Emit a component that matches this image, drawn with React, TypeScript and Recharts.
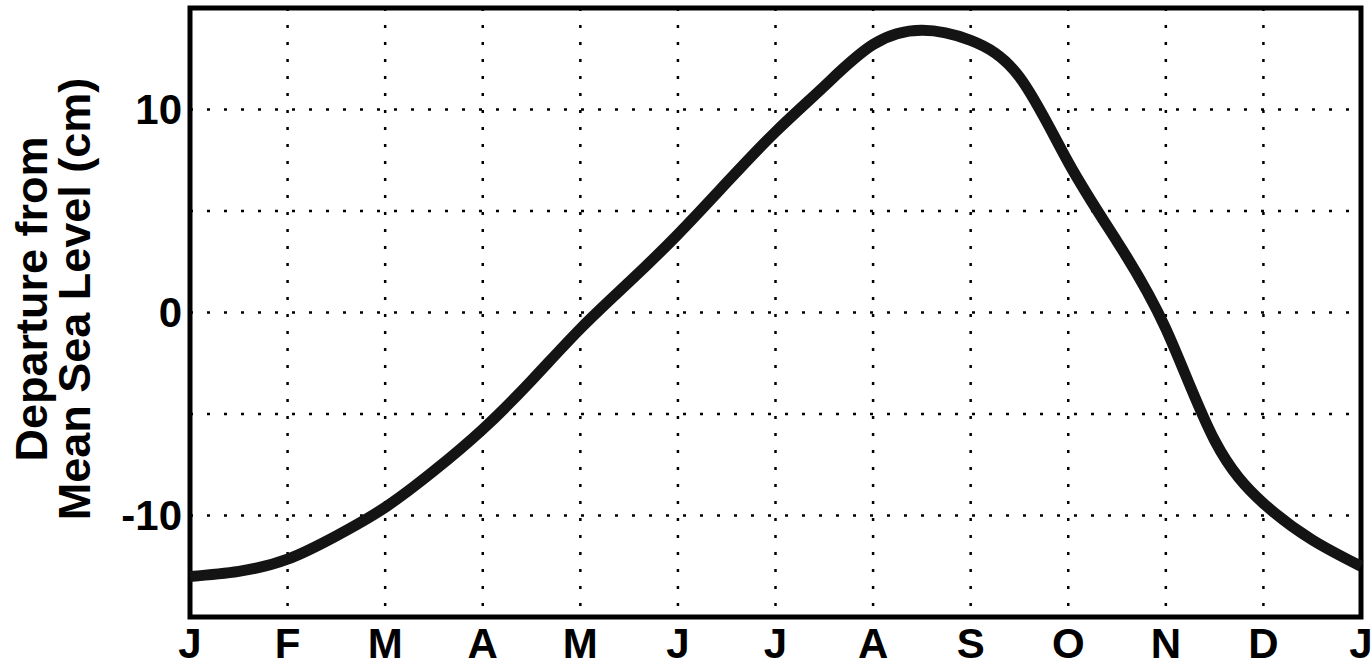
import React from 'react';
import {
  LineChart,
  Line,
  XAxis,
  YAxis,
  CartesianGrid,
  ReferenceArea,
} from 'recharts';

// month position (0 = start of Jan, 12 = end of Dec), half-month steps
const monthPos = [
  0, 0.5, 1, 1.5, 2, 2.5, 3, 3.5, 4, 4.5, 5, 5.5, 6,
  6.5, 7, 7.5, 8, 8.5, 9, 9.5, 10, 10.5, 11, 11.5, 12,
];

// departure from mean sea level, cm
const seaLevel = [
  -13.0, -12.75, -12.15, -11.0, -9.6, -7.8, -5.75, -3.35, -0.8, 1.5, 3.85, 6.4, 8.9,
  11.15, 13.2, 13.9, 13.4, 11.6, 7.4, 3.5, -0.8, -6.3, -9.4, -11.2, -12.5,
];

const monthTicks = [0, 1, 2, 3, 4, 5, 6, 7, 8, 9, 10, 11, 12];
const monthLetters = ['J', 'F', 'M', 'A', 'M', 'J', 'J', 'A', 'S', 'O', 'N', 'D', 'J'];

const levelTicks = [-15, -10, -5, 0, 5, 10, 15];
const levelLabels = [-10, 0, 10];

const titleLines = ['Departure from', 'Mean Sea Level (cm)'];

const data = monthPos.map((m, i) => ({ m, level: seaLevel[i] }));

const FONT = '"Liberation Sans", Arial, Helvetica, sans-serif';

const AxisTitle = () => (
  <g>
    {titleLines.map((line, i) => {
      const x = i === 0 ? 47 : 90;
      const y = 299;
      return (
        <text
          key={line}
          x={x}
          y={y}
          transform={`rotate(-90, ${x}, ${y})`}
          textAnchor="middle"
          fontFamily={FONT}
          fontWeight="bold"
          fontSize={45}
          fill="#000"
        >
          {line}
        </text>
      );
    })}
  </g>
);

const App = () => {
  return (
    <div style={{ position: 'absolute', left: 0, top: 0, background: '#fff' }}>
      <LineChart
        width={1372}
        height={669}
        data={data}
        margin={{ top: 8, right: 11, bottom: 0, left: 0 }}
      >
        <CartesianGrid stroke="#000" strokeWidth={2.5} strokeDasharray="3 14" />
        <XAxis
          dataKey="m"
          type="number"
          domain={[0, 12]}
          ticks={monthTicks}
          interval={0}
          tickFormatter={(v: number) => monthLetters[v] ?? ''}
          height={52}
          tickLine={false}
          axisLine={false}
          tickMargin={5}
          tick={{ fontSize: 42, fontWeight: 'bold', fill: '#000', fontFamily: FONT }}
        />
        <YAxis
          type="number"
          domain={[-15, 15]}
          ticks={levelTicks}
          interval={0}
          tickFormatter={(v: number) => (levelLabels.includes(v) ? String(v) : '')}
          width={190}
          tickLine={false}
          axisLine={false}
          tick={{ fontSize: 42, fontWeight: 'bold', fill: '#000', fontFamily: FONT }}
          label={{ content: () => <AxisTitle /> }}
        />
        <ReferenceArea
          x1={0}
          x2={12}
          y1={-15}
          y2={15}
          fill="none"
          stroke="#000"
          strokeWidth={5}
          ifOverflow="visible"
        />
        <Line
          type="natural"
          dataKey="level"
          stroke="#141414"
          strokeWidth={11}
          dot={false}
          activeDot={false}
          isAnimationActive={false}
        />
      </LineChart>
    </div>
  );
};

export default App;
